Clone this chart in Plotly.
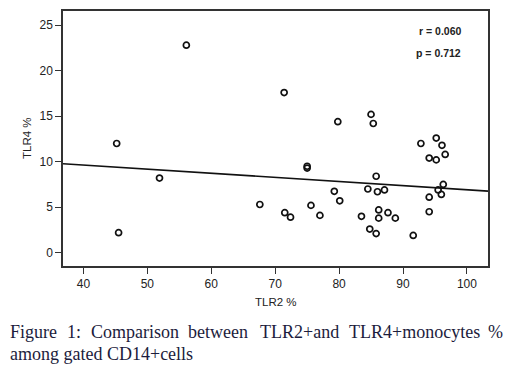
import plotly.graph_objects as go

# Data
tlr2 = [45.2, 45.5, 51.9, 56.1, 67.6, 71.4, 71.5, 72.4, 75.0, 75.0,
        75.6, 77.0, 79.25, 79.8, 80.1, 83.5, 84.5, 84.8, 85.0, 85.35,
        85.8, 85.8, 86.0, 86.2, 86.2, 87.1, 87.65, 88.8, 91.6, 92.8,
        94.1, 94.1, 94.1, 95.2, 95.2, 95.5, 96.1, 96.3, 96.0, 96.6]
tlr4 = [12.0, 2.2, 8.2, 22.8, 5.3, 17.6, 4.4, 3.9, 9.3, 9.5,
        5.2, 4.1, 6.75, 14.4, 5.7, 4.0, 7.0, 2.6, 15.2, 14.2,
        8.4, 2.1, 6.7, 4.7, 3.8, 6.9, 4.4, 3.8, 1.9, 12.0,
        10.4, 6.1, 4.5, 12.6, 10.2, 6.9, 11.8, 7.5, 6.4, 10.8]
fit_intercept = 11.45
fit_slope = -0.0453
x_range = [36.8, 103.3]
y_range = [-1.46, 26.56]
x_ticks = [40, 50, 60, 70, 80, 90, 100]
y_ticks = [0, 5, 10, 15, 20, 25]
stats_text = ["r = 0.060", "p = 0.712"]
x_title = "TLR2 %"
y_title = "TLR4 %"
caption_line1 = ["Figure", "1:", "Comparison", "between", "TLR2+and", "TLR4+monocytes", "%"]
caption_line2 = "among gated CD14+cells"

W, H = 512, 377
L, R, T, B = 63, 24, 9, 111
pw = W - L - R
ph = H - T - B


def px_x(px):
    return (px - L) / pw


def px_y(py):
    return 1 - (py - T) / ph


fig = go.Figure()
fit_y = [fit_intercept + fit_slope * x for x in x_range]
fig.add_trace(go.Scatter(x=x_range, y=fit_y, mode="lines",
                         line=dict(color="#111111", width=1.6), hoverinfo="skip"))
fig.add_trace(go.Scatter(x=tlr2, y=tlr4, mode="markers",
                         marker=dict(symbol="circle-open", size=6, color="#111111",
                                     line=dict(width=1.7, color="#111111"))))

sans = "Liberation Sans, Arial"
axis_common = dict(showgrid=False, zeroline=False, showline=True, mirror=True,
                   linecolor="#333333", linewidth=1.5, ticks="outside",
                   ticklen=6, tickwidth=1, tickcolor="#333333",
                   tickfont=dict(family=sans, size=12, color="#222222"))
fig.update_xaxes(range=x_range, tickvals=x_ticks, **axis_common)
fig.update_yaxes(range=y_range, tickvals=y_ticks, **axis_common)

title_font = dict(family=sans, size=11.5, color="#222222")
anns = [
    dict(text=x_title, xref="paper", yref="paper", x=px_x(276), y=px_y(302),
         xanchor="center", yanchor="middle", showarrow=False, font=title_font),
    dict(text=y_title, xref="paper", yref="paper", x=px_x(27), y=px_y(137),
         xanchor="center", yanchor="middle", showarrow=False, textangle=-90, font=title_font),
]
for i, s in enumerate(stats_text):
    anns.append(dict(text="<b>" + s + "</b>", xref="paper", yref="paper", x=px_x(463),
                     y=px_y(29 + 22 * i), xanchor="right", yanchor="middle",
                     showarrow=False, font=dict(family=sans, size=10.5, color="#222222")))

word_px = [8, 65, 89, 186, 258, 347, 505]
cap_font = dict(family="Liberation Serif, Times New Roman", size=18, color="#1c1c3c")
for wd, px in zip(caption_line1, word_px):
    anns.append(dict(text=wd, xref="paper", yref="paper", x=px_x(px), y=px_y(333),
                     xanchor="right" if wd == "%" else "left",
                     yanchor="middle", showarrow=False, font=cap_font))
anns.append(dict(text=caption_line2, xref="paper", yref="paper", x=px_x(8), y=px_y(355),
                 xanchor="left", yanchor="middle", showarrow=False, font=cap_font))

fig.update_layout(width=W, height=H, margin=dict(l=L, r=R, t=T, b=B),
                  paper_bgcolor="white", plot_bgcolor="white", showlegend=False,
                  annotations=anns)
fig.write_html("out.html", config={"displayModeBar": False},
               post_script="document.body.style.margin='0';")
